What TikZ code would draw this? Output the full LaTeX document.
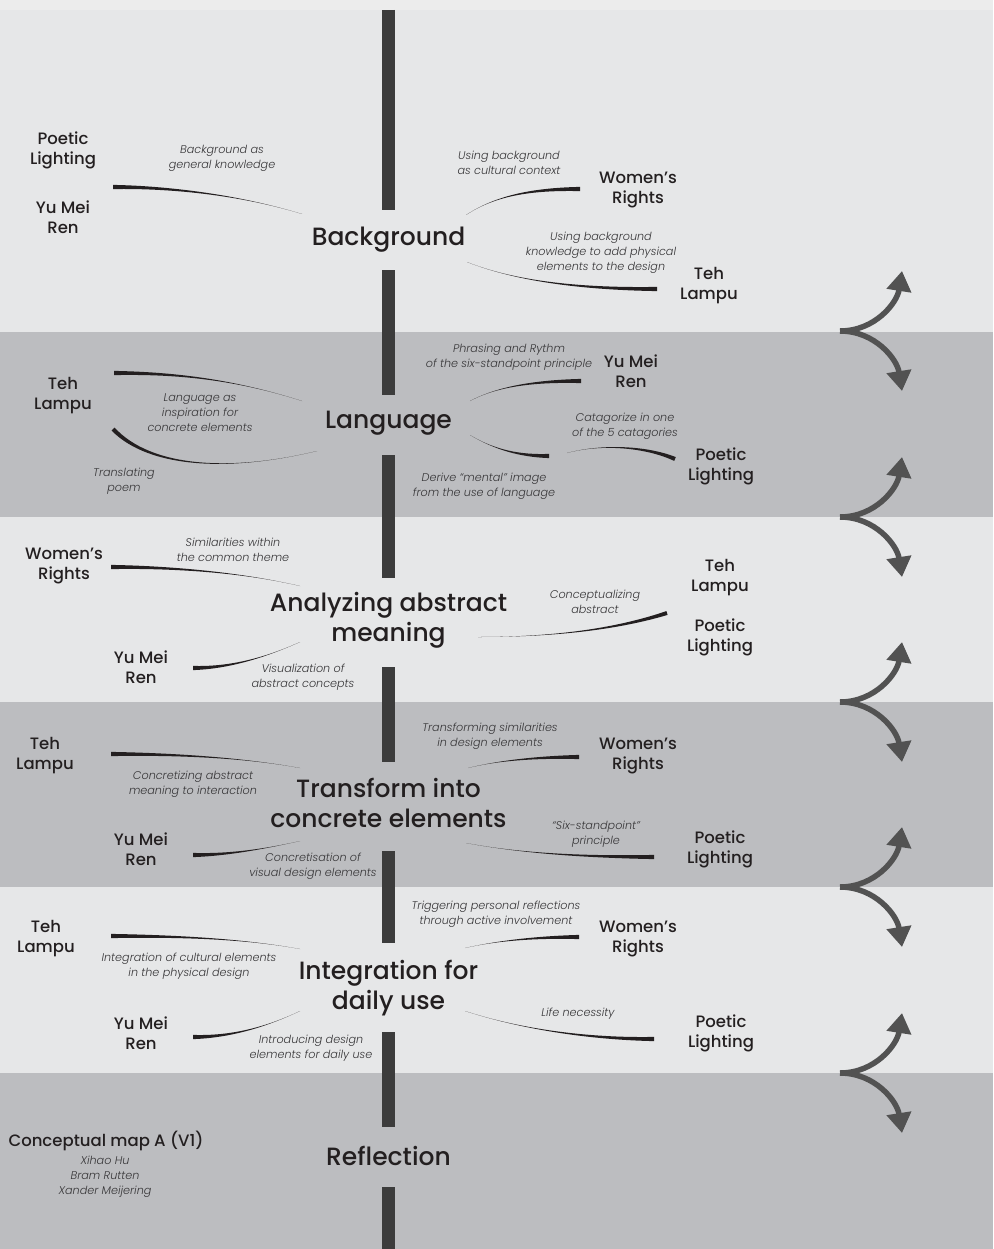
\documentclass[tikz,border=0pt]{standalone}
\usepackage{fontspec}
\setmainfont{Poppins}
\newfontfamily\namefont{Poppins Medium}
\newfontfamily\notefont{Poppins Light Italic}
\usepackage{tikz}
\usetikzlibrary{calc,arrows.meta}
\definecolor{paper}{RGB}{236,236,236}
\definecolor{bandlight}{RGB}{230,231,232}
\definecolor{banddark}{RGB}{188,189,192}
\definecolor{spinegray}{RGB}{60,60,60}
\definecolor{ink}{RGB}{35,31,32}
\definecolor{notegray}{RGB}{55,54,56}
\definecolor{arrowgray}{RGB}{82,82,82}

% tapered curve: thin at #2, thick at #5, controls #3 and #4, #1 = half width at the thick end
\newcommand{\taper}[5][0,2.1]{%
  \fill[ink] (#2) .. controls (#3) and ($(#4)+0.5*(#1)$) .. ($(#5)+(#1)$) -- ($(#5)-(#1)$) .. controls ($(#4)-0.5*(#1)$) and (#3) .. (#2) -- cycle;}

\tikzset{
  title/.style={font=\namefont\fontsize{25}{30}\selectfont, text=ink, align=center, inner sep=0pt},
  person/.style={font=\namefont\fontsize{16.5}{20}\selectfont, text=ink, align=center, inner sep=0pt},
  note/.style={font=\notefont\fontsize{11.2}{15}\selectfont, text=notegray, align=center, inner sep=0pt},
  spine/.style={line width=13, spinegray},
  flow/.style={line width=5.5, arrowgray, -{Triangle[length=20pt 0,width=24pt 0]}},
}

\begin{document}
\begin{tikzpicture}[x=1pt,y=-1pt]
\useasboundingbox (0,0) rectangle (993,1249);

%Bands
\fill[paper] (0,0) rectangle (993,1249);
\fill[bandlight] (0,10) rectangle (993,332);
\fill[banddark] (0,332) rectangle (993,517);
\fill[bandlight] (0,517) rectangle (993,702);
\fill[banddark] (0,702) rectangle (993,887);
\fill[bandlight] (0,887) rectangle (993,1073);
\fill[banddark] (0,1073) rectangle (993,1249);

% Title Nodes
\node[title] (bg) at (388.5,240) {Background};
\node[title] (lang) at (388.5,423) {Language};
\node[title] (abs) at (388.5,620) {Analyzing abstract\\meaning};
\node[title] (trans) at (388.5,803) {Transform into\\concrete elements};
\node[title] (integ) at (388.5,988) {Integration for\\daily use};
\node[title] (refl) at (388.5,1156) {Reflection};
\coordinate (top) at (388.5,10);
\coordinate (bottom) at (388.5,1249);

%Straight Lines
\draw[spine] (top) -- ($(bg)+(0,-30)$);
\draw[spine] ($(bg)+(0,30)$) -- ($(lang)+(0,-28)$);
\draw[spine] ($(lang)+(0,32)$) -- ($(abs)+(0,-42)$);
\draw[spine] ($(abs)+(0,47)$) -- ($(trans)+(0,-41)$);
\draw[spine] ($(trans)+(0,48)$) -- ($(integ)+(0,-45)$);
\draw[spine] ($(integ)+(0,44)$) -- ($(refl)+(0,-29)$);
\draw[spine] ($(refl)+(0,31)$) -- (bottom);

%Background
\node[person] (pl1) at (63,150) {Poetic\\Lighting};
\node[person] (ymr1) at (63,217) {Yu Mei\\Ren};
\node[note] (bgA) at (222,158.5) {Background as\\general knowledge};
\node[note] (bgB) at (509,162.5) {Using background\\as cultural context};
\node[person] (wr1) at (638,190) {Women’s\\Rights};
\node[note] (bgC) at (601,253) {Using background\\knowledge to add physical\\elements to the design};
\node[person] (tl1) at (709,286) {Teh\\Lampu};
\taper{302,214}{240,195}{170,187}{113,187}
\taper{466,215}{495,196}{530,189}{580,189}
\taper{467,262}{520,283}{590,289}{657,289}

%Language
\node[person] (tl2) at (63,396) {Teh\\Lampu};
\node[note] (lgA) at (200,413) {Language as\\inspiration for\\concrete elements};
\node[note] (lgB) at (124,481.5) {Translating\\poem};
\node[note] (lgC) at (509,357.5) {Phrasing and Rythm\\of the six-standpoint principle};
\node[person] (ymr2) at (631,371.5) {Yu Mei\\Ren};
\node[note] (lgD) at (625,426.5) {Catagorize in one\\of the 5 catagories};
\node[person] (pl2) at (721,466.5) {Poetic\\Lighting};
\node[note] (lgE) at (484,486) {Derive “mental” image\\from the use of language};
\taper{302,401}{230,378}{170,373}{114,373}
\taper[1.5,-1.5]{317,451}{230,472}{150,468}{113,429}
\taper{470,401}{500,385}{540,381}{581,381}
\taper{470,435}{495,450}{520,456}{549,456}
\taper[-0.8,1.9]{567,453}{600,444}{645,446}{675,459}

%Analyzing abstract meaning
\node[person] (wr3) at (64,566) {Women’s\\Rights};
\node[note] (abA) at (233,549.5) {Similarities within\\the common theme};
\node[person] (ymr3) at (141,667) {Yu Mei\\Ren};
\node[note] (abB) at (303,677.5) {Visualization of\\abstract concepts};
\node[note] (abC) at (595,601.5) {Conceptualizing\\abstract};
\node[person] (tl3) at (720,578) {Teh\\Lampu};
\node[person] (pl3) at (720,637) {Poetic\\Lighting};
\taper{300,586}{240,572}{170,567}{111,567}
\taper{300,642}{260,660}{225,668}{193,668}
\taper[0.6,1.9]{478,637}{560,637}{620,628}{667,613}

%Transform into concrete elements
\node[person] (tl4) at (45,756) {Teh\\Lampu};
\node[note] (trA) at (193,784.5) {Concretizing abstract\\meaning to interaction};
\node[person] (ymr4) at (141,849) {Yu Mei\\Ren};
\node[note] (trB) at (313,866) {Concretisation of\\visual design elements};
\node[note] (trC) at (490,736) {Transforming similarities\\in design elements};
\node[person] (wr4) at (638,756) {Women’s\\Rights};
\node[note] (trD) at (596,834.5) {“Six-standpoint”\\principle};
\node[person] (pl4) at (720,849.5) {Poetic\\Lighting};
\taper{300,768}{240,757}{170,754}{111,754}
\taper{300,841}{260,850}{225,855}{193,855}
\taper{468,768}{500,760}{540,757}{579,757}
\taper{466,843}{530,855}{600,857}{654,857}

%Integration for daily use
\node[person] (tl5) at (46,939) {Teh\\Lampu};
\node[note] (inA) at (189,966) {Integration of cultural elements\\in the physical design};
\node[person] (ymr5) at (141,1033) {Yu Mei\\Ren};
\node[note] (inB) at (311,1048.5) {Introducing design\\elements for daily use};
\node[note] (inC) at (496,914.5) {Triggering personal reflections\\through active involvement};
\node[person] (wr5) at (638,939) {Women’s\\Rights};
\node[note] (inD) at (578,1014) {Life necessity};
\node[person] (pl5) at (721,1033) {Poetic\\Lighting};
\taper{300,949}{240,938}{170,936}{111,936}
\taper{300,1011}{260,1030}{225,1037}{193,1037}
\taper{465,948}{500,940}{540,937}{579,937}
\taper{465,1011}{530,1032}{600,1039}{654,1039}

%Reflection
\node[person] (map) at (106,1141) {Conceptual map A (V1)};
\node[note] (crew) at (105,1177) {Xihao Hu\\Bram Rutten\\Xander Meijering};

%Curve Arrows
\foreach \b [count=\i] in {331,517,702,887,1073}{
  \coordinate (fork\i) at (840,\b);
  \coordinate (up\i) at (902,\b-60);
  \coordinate (dn\i) at (902,\b+60);
  \draw[flow] (fork\i) .. controls ($(fork\i)+(35,0)$) and ($(up\i)+(-5,32)$) .. (up\i);
  \draw[flow] (fork\i) .. controls ($(fork\i)+(35,0)$) and ($(dn\i)+(-5,-32)$) .. (dn\i);
}

\end{tikzpicture}
\end{document}
